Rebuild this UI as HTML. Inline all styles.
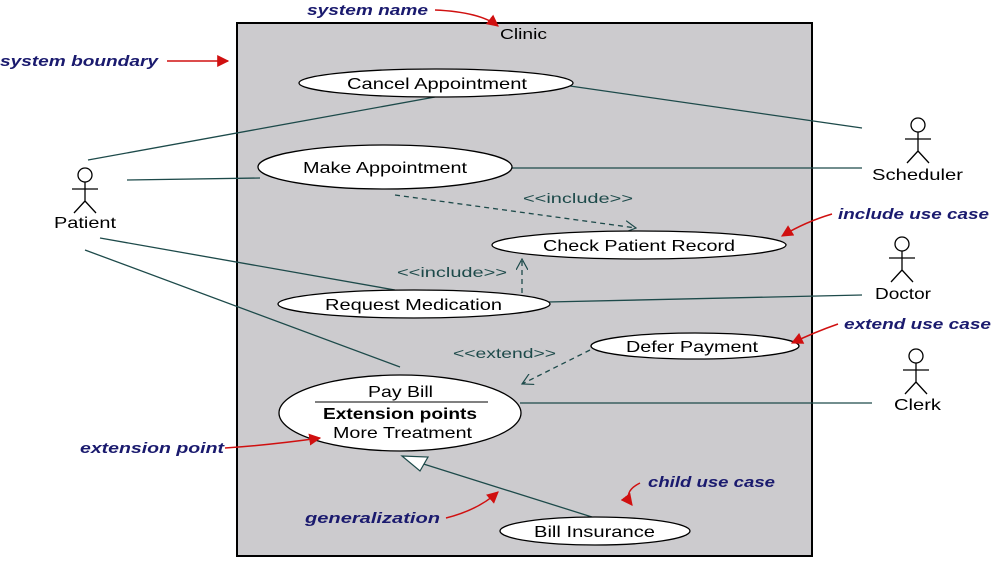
<!DOCTYPE html>
<html><head><style>body{margin:0;background:#fff}svg{display:block}</style></head><body>
<svg width="992" height="567" xmlns="http://www.w3.org/2000/svg" font-family="Liberation Sans, sans-serif">
<defs>
<marker id="r" viewBox="0 0 10 10" refX="9" refY="5" markerWidth="8" markerHeight="8" orient="auto"><path d="M0,0L10,5L0,10z" fill="#d01010"/></marker>
<marker id="o" viewBox="0 0 12 12" refX="11" refY="6" markerWidth="12" markerHeight="12" orient="auto" markerUnits="userSpaceOnUse"><path d="M0,0L11,6L0,12" fill="none" stroke="#1d4a4a" stroke-width="1.2"/></marker>
</defs>
<rect x="237" y="23" width="575" height="533" fill="#cccbce" stroke="#000" stroke-width="2"/>
<text x="500" y="39" font-size="15" textLength="47" lengthAdjust="spacingAndGlyphs">Clinic</text>
<g stroke="#1d4a4a" stroke-width="1.3" fill="none">
<line x1="88" y1="160" x2="435" y2="97"/>
<line x1="127" y1="180" x2="260" y2="178"/>
<line x1="100" y1="238" x2="395" y2="290"/>
<line x1="85" y1="250" x2="400" y2="367"/>
<line x1="570" y1="86" x2="862" y2="128"/>
<line x1="510" y1="168" x2="862" y2="168"/>
<line x1="548" y1="302" x2="862" y2="295"/>
<line x1="520" y1="403" x2="872" y2="403"/>
<line x1="395" y1="195" x2="636" y2="228" stroke-dasharray="5,4" marker-end="url(#o)"/>
<line x1="522" y1="293" x2="522" y2="259" stroke-dasharray="5,4" marker-end="url(#o)"/>
<line x1="590" y1="350" x2="522" y2="384" stroke-dasharray="5,4" marker-end="url(#o)"/>
<line x1="592" y1="517" x2="414" y2="461"/>
</g>
<path d="M402,456 L428,457 L420,471 Z" fill="#fff" stroke="#1d4a4a" stroke-width="1.2"/>
<g fill="#1d4a4a" font-size="14" lengthAdjust="spacingAndGlyphs">
<text x="523" y="203" textLength="110" lengthAdjust="spacingAndGlyphs">&lt;&lt;include&gt;&gt;</text>
<text x="397" y="277" textLength="110" lengthAdjust="spacingAndGlyphs">&lt;&lt;include&gt;&gt;</text>
<text x="453" y="358" textLength="103" lengthAdjust="spacingAndGlyphs">&lt;&lt;extend&gt;&gt;</text></g>
<g fill="#fff" stroke="#000" stroke-width="1.3">
<ellipse cx="436" cy="83" rx="137" ry="14"/>
<ellipse cx="385" cy="167" rx="127" ry="22"/>
<ellipse cx="639" cy="245" rx="147" ry="14"/>
<ellipse cx="414" cy="304" rx="136" ry="14"/>
<ellipse cx="695" cy="346" rx="104" ry="13"/>
<ellipse cx="400" cy="413" rx="121" ry="38"/>
<ellipse cx="595" cy="531" rx="95" ry="14"/>
</g>
<line x1="315" y1="402" x2="488" y2="402" stroke="#000"/>
<g font-size="16" fill="#000">
<text x="347" y="89" textLength="180" lengthAdjust="spacingAndGlyphs">Cancel Appointment</text>
<text x="303" y="173" textLength="164" lengthAdjust="spacingAndGlyphs">Make Appointment</text>
<text x="543" y="251" textLength="192" lengthAdjust="spacingAndGlyphs">Check Patient Record</text>
<text x="325" y="310" textLength="177" lengthAdjust="spacingAndGlyphs">Request Medication</text>
<text x="626" y="352" textLength="132" lengthAdjust="spacingAndGlyphs">Defer Payment</text>
<text x="368" y="397" textLength="65" lengthAdjust="spacingAndGlyphs">Pay Bill</text>
<text x="323" y="419" font-weight="bold" textLength="154" lengthAdjust="spacingAndGlyphs">Extension points</text>
<text x="333" y="438" textLength="139" lengthAdjust="spacingAndGlyphs">More Treatment</text>
<text x="534" y="537" textLength="121" lengthAdjust="spacingAndGlyphs">Bill Insurance</text>
<text x="54" y="228" textLength="62" lengthAdjust="spacingAndGlyphs">Patient</text>
<text x="872" y="180" textLength="91" lengthAdjust="spacingAndGlyphs">Scheduler</text>
<text x="875" y="299" textLength="56" lengthAdjust="spacingAndGlyphs">Doctor</text>
<text x="894" y="410" textLength="47" lengthAdjust="spacingAndGlyphs">Clerk</text>
</g>
<g stroke="#000" stroke-width="1.3" fill="none">
<g transform="translate(85,155)"><circle cx="0" cy="20" r="7"/><path d="M0,27V46M-13,34H13M0,46L-11,58M0,46L11,58"/></g>
<g transform="translate(918,105)"><circle cx="0" cy="20" r="7"/><path d="M0,27V46M-13,34H13M0,46L-11,58M0,46L11,58"/></g>
<g transform="translate(902,224)"><circle cx="0" cy="20" r="7"/><path d="M0,27V46M-13,34H13M0,46L-11,58M0,46L11,58"/></g>
<g transform="translate(916,336)"><circle cx="0" cy="20" r="7"/><path d="M0,27V46M-13,34H13M0,46L-11,58M0,46L11,58"/></g>
</g>
<g fill="#1a1a6e" font-size="15" font-weight="bold" font-style="italic">
<text x="307" y="15" textLength="121" lengthAdjust="spacingAndGlyphs">system name</text>
<text x="0" y="66" textLength="158" lengthAdjust="spacingAndGlyphs">system boundary</text>
<text x="838" y="219" textLength="151" lengthAdjust="spacingAndGlyphs">include use case</text>
<text x="844" y="329" textLength="147" lengthAdjust="spacingAndGlyphs">extend use case</text>
<text x="80" y="453" textLength="144" lengthAdjust="spacingAndGlyphs">extension point</text>
<text x="305" y="523" textLength="135" lengthAdjust="spacingAndGlyphs">generalization</text>
<text x="648" y="487" textLength="127" lengthAdjust="spacingAndGlyphs">child use case</text>
</g>
<g stroke="#d01010" stroke-width="1.5" fill="none" marker-end="url(#r)">
<path d="M435,10 Q480,12 498,26"/>
<path d="M167,61 L228,61"/>
<path d="M832,214 Q805,222 782,236"/>
<path d="M838,324 Q815,332 792,343"/>
<path d="M225,448 Q270,445 320,438"/>
<path d="M446,518 Q478,510 498,492"/>
<path d="M640,483 Q622,492 632,505"/>
</g>
</svg>
</body></html>
